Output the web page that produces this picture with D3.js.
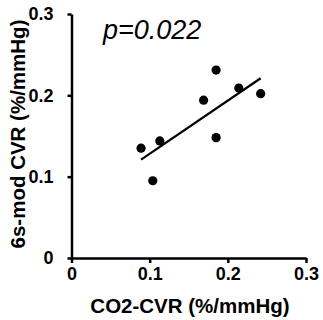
<!DOCTYPE html>
<html>
<head>
<meta charset="utf-8">
<script src="https://cdn.jsdelivr.net/npm/d3@7"></script>
<style>
  body { margin: 0; background: #fff; }
  text { font-family: Arial, "Liberation Sans", sans-serif; }
</style>
</head>
<body>
<div id="chart-area"></div>
<script>
// values
var co2Cvr = [0.089, 0.104, 0.113, 0.169, 0.185, 0.185, 0.214, 0.242];
var sixSCvr = [0.135, 0.095, 0.144, 0.194, 0.231, 0.148, 0.209, 0.202];
var fitX = [0.089, 0.242];
var fitY = [0.121, 0.221];
var ticks = [0, 0.1, 0.2, 0.3];
var tickLabels = ["0", "0.1", "0.2", "0.3"];
var pText = "p=0.022";

var data = co2Cvr.map((d, i) => { return {x: d, y: sixSCvr[i]}; });

var svg = d3.select("#chart-area").append("svg").attr("width", 323).attr("height", 320);

var x = d3.scaleLinear().domain([0, 0.3]).range([71.5, 306]);
var y = d3.scaleLinear().domain([0, 0.3]).range([258, 14]);

var xAxis = svg.append("g")
  .attr("transform", "translate(0,258)")
  .call(d3.axisBottom(x).tickValues(ticks).tickSize(5).tickSizeOuter(0)
    .tickFormat((d, i) => tickLabels[i]));
var yAxis = svg.append("g")
  .attr("transform", "translate(71.5,0)")
  .call(d3.axisLeft(y).tickValues(ticks).tickSize(4).tickSizeOuter(0)
    .tickFormat((d, i) => tickLabels[i]));

[xAxis, yAxis].forEach((g) => {
  g.select(".domain").attr("stroke", "#000").attr("stroke-width", 2.5);
  g.selectAll(".tick line").attr("stroke", "#000").attr("stroke-width", 2.5);
  g.selectAll(".tick text")
    .attr("fill", "#000")
    .style("font-size", "18px")
    .style("font-weight", "bold");
});
xAxis.selectAll(".tick text").attr("y", 9);
yAxis.selectAll(".tick text").attr("x", -18);

// fit line
svg.append("line")
  .attr("x1", x(fitX[0])).attr("y1", y(fitY[0]))
  .attr("x2", x(fitX[1])).attr("y2", y(fitY[1]))
  .attr("stroke", "#000").attr("stroke-width", 2.2);

svg.selectAll("circle").data(data).enter()
  .append("circle")
  .attr("cx", (d) => x(d.x))
  .attr("cy", (d) => y(d.y))
  .attr("r", 4.6)
  .attr("fill", "#000");

svg.append("text")
  .attr("x", 103).attr("y", 39)
  .style("font-size", "27px")
  .style("font-style", "italic")
  .text(pText);

svg.append("text")
  .attr("x", 190).attr("y", 313)
  .attr("text-anchor", "middle")
  .style("font-size", "20.5px")
  .style("font-weight", "bold")
  .text("CO2-CVR (%/mmHg)");

svg.append("text")
  .attr("transform", "translate(25,134) rotate(-90)")
  .attr("text-anchor", "middle")
  .style("font-size", "20.5px")
  .style("font-weight", "bold")
  .text("6s-mod CVR (%/mmHg)");
</script>
</body>
</html>
